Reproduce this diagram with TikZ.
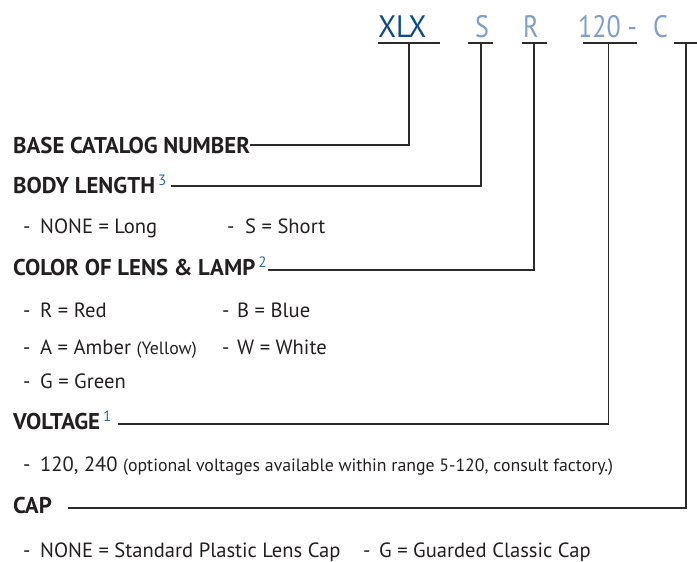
\documentclass[tikz,border=0pt]{standalone}
\usepackage{fontspec}
\setmainfont{PT Sans}
\newfontfamily\condfont[FakeStretch=0.84]{PT Sans}
\definecolor{darkblue}{HTML}{0D4A87}
\definecolor{lightblue}{HTML}{7F9EC9}
\definecolor{supblue}{HTML}{2A68A8}
\definecolor{linegray}{HTML}{2B2B2B}
\definecolor{ink}{HTML}{231F20}
\tikzset{
  code/.style={inner sep=0pt, anchor=base west, font=\condfont\fontsize{31}{31}\selectfont},
  head/.style={inner sep=0pt, anchor=base west, font=\bfseries\fontsize{22.8}{24}\selectfont, text=ink},
  item/.style={inner sep=0pt, anchor=base west, font=\fontsize{20.6}{22}\selectfont, text=ink},
  uline/.style={draw=linegray, line width=1.3pt},
  conn/.style={draw=linegray, line width=1.3pt},
}
\newcommand{\supnum}[1]{\kern3pt\textsuperscript{\textcolor{supblue}{\fontsize{15}{15}\selectfont\normalfont #1}}}
\newcommand{\dsh}[1]{\makebox[#1][l]{-}}
\newcommand{\smalltxt}[1]{{\fontsize{17.8}{18}\selectfont #1}}
\begin{document}
\begin{tikzpicture}[x=1pt,y=-1pt]
\useasboundingbox (0,0) rectangle (697,562);
% part number code
\node[code, text=darkblue] (cXLX) at (378,37) {\scalebox{1.12}[1]{XLX}};
\node[code, text=lightblue] (cS) at (475,37) {S};
\node[code, text=lightblue] (cR) at (523,37) {R};
\node[code, text=lightblue] (c120) at (578,37) {120 -};
\node[code, text=lightblue] (cC) at (653,37) {C};
% underlines
\coordinate (uXLXa) at (378,43); \coordinate (uXLXb) at (440,43); \coordinate (uXLX) at (409,43);
\coordinate (uSa) at (468,43); \coordinate (uSb) at (493,43); \coordinate (uS) at (481,43);
\coordinate (uRa) at (522,43); \coordinate (uRb) at (547,43); \coordinate (uR) at (534,43);
\coordinate (u120a) at (583,43); \coordinate (u120b) at (637,43); \coordinate (u120) at (608.5,43);
\coordinate (uCa) at (674,43); \coordinate (uCb) at (697,43); \coordinate (uC) at (686,43);
\draw[uline] (uXLXa) -- (uXLXb);
\draw[uline] (uSa) -- (uSb);
\draw[uline] (uRa) -- (uRb);
\draw[uline] (u120a) -- (u120b);
\draw[uline] (uCa) -- (uCb);
% headings
\node[head] (base) at (13,153) {BASE CATALOG NUMBER};
\node[head] (body) at (13,193) {BODY LENGTH\supnum{3}};
\node[item] (b1) at (23,233) {\dsh{17pt}NONE = Long};
\node[item] (b2) at (227,233) {\dsh{18pt}S = Short};
\node[head] (color) at (13,275) {COLOR OF LENS \& LAMP\supnum{2}};
\node[item] (l1) at (23,317) {\dsh{17pt}R = Red};
\node[item] (l2) at (222,317) {\dsh{15pt}B = Blue};
\node[item] (l3) at (23,354) {\dsh{17pt}A = Amber \smalltxt{(Yellow)}};
\node[item] (l4) at (222,354) {\dsh{15pt}W = White};
\node[item] (l5) at (23,388) {\dsh{17pt}G = Green};
\node[head] (volt) at (13,429) {VOLTAGE\supnum{1}};
\node[item] (v1) at (23,471) {\dsh{17pt}120, 240 \smalltxt{(optional voltages available within range 5-120, consult factory.)}};
\node[head] (cap) at (13,513) {CAP};
\node[item] (p1) at (23,557) {\dsh{17pt}NONE = Standard Plastic Lens Cap};
\node[item] (p2) at (363,557) {\dsh{16pt}G = Guarded Classic Cap};
% connectors
\draw[conn] ([yshift=8pt]base.base east) -| (uXLX);
\draw[conn] ([xshift=4pt,yshift=7pt]body.base east) -| (uS);
\draw[conn] ([xshift=0.5pt,yshift=5pt]color.base east) -| (uR);
\draw[conn] ([xshift=6pt,yshift=5pt]volt.base east) -| (u120);
\draw[conn] ([xshift=16pt,yshift=5pt]cap.base east) -| (uC);
\end{tikzpicture}
\end{document}
